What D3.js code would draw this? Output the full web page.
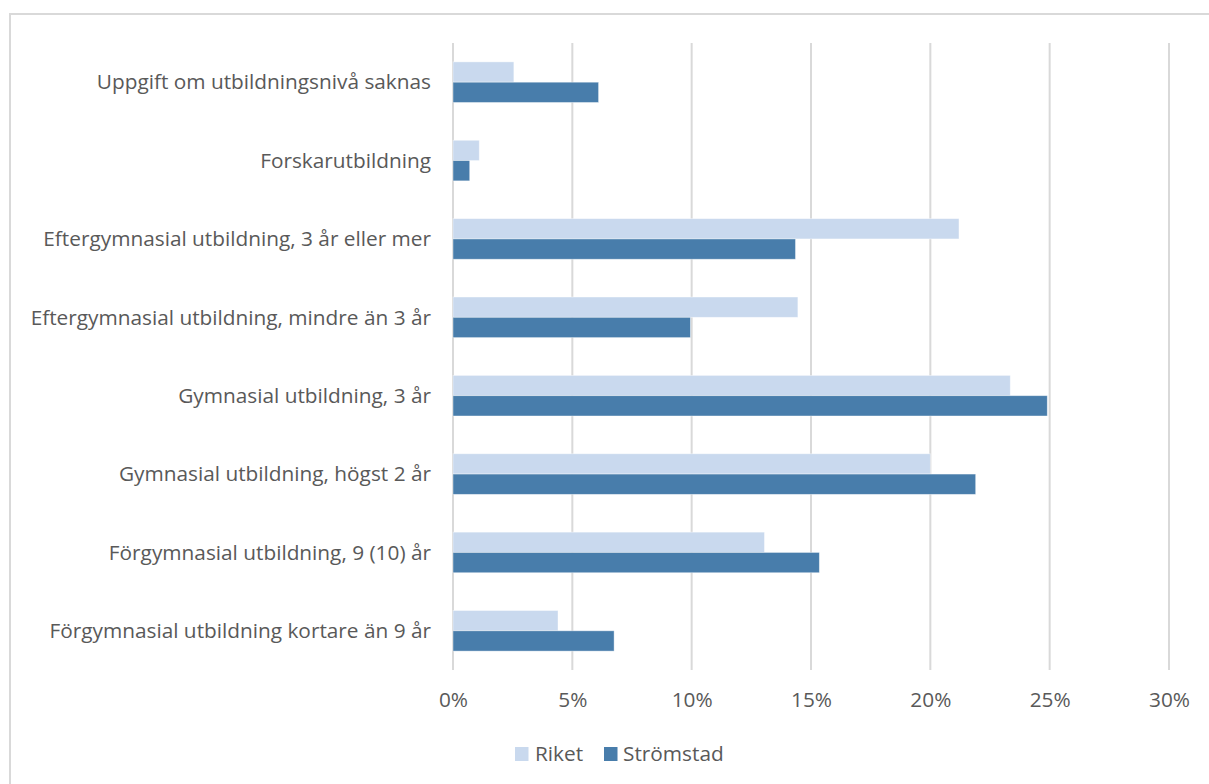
<!DOCTYPE html>
<html>
<head>
<meta charset="utf-8">
<script src="https://cdn.jsdelivr.net/npm/d3@7"></script>
<style>
  html, body { margin: 0; padding: 0; background: #fff; }
  svg { display: block; }
  text { font-family: "Open Sans", "Noto Sans", sans-serif; fill: #595959; }
</style>
</head>
<body>
<svg id="chart" width="1209" height="784"></svg>
<script>
// Utbildningsnivå, andel av befolkningen
const categories = [
  "Uppgift om utbildningsnivå saknas",
  "Forskarutbildning",
  "Eftergymnasial utbildning, 3 år eller mer",
  "Eftergymnasial utbildning, mindre än 3 år",
  "Gymnasial utbildning, 3 år",
  "Gymnasial utbildning, högst 2 år",
  "Förgymnasial utbildning, 9 (10) år",
  "Förgymnasial utbildning kortare än 9 år"
];
const seriesNames = ["Riket", "Strömstad"];
const riket     = [2.55, 1.1, 21.2, 14.45, 23.35, 20.0, 13.05, 4.4];
const stromstad = [6.1, 0.7, 14.35, 9.95, 24.9, 21.9, 15.35, 6.75];
const tickValues = [0, 5, 10, 15, 20, 25, 30];
const colors = ["#c9d9ee", "#487dab"];
const fontSize = 20.8;

const svg = d3.select("#chart");

// outer chart frame
svg.append("rect")
  .attr("x", 10).attr("y", 14)
  .attr("width", 1300).attr("height", 900)
  .attr("fill", "none")
  .attr("stroke", "#d9d9d9").attr("stroke-width", 2);

const x = d3.scaleLinear().domain([0, 30]).range([453, 1169]);
const y = d3.scaleBand().domain(categories).range([43, 670]).paddingInner(0).paddingOuter(0);
const barH = 20.3;

// gridlines
svg.append("g")
  .selectAll("line")
  .data(tickValues)
  .join("line")
  .attr("x1", d => x(d)).attr("x2", d => x(d))
  .attr("y1", 43).attr("y2", 670)
  .attr("stroke", "#d9d9d9").attr("stroke-width", 2);

// bars
const rows = categories.map((c, i) => ({ c, vals: [riket[i], stromstad[i]] }));
const groups = svg.append("g").selectAll("g")
  .data(rows)
  .join("g")
  .attr("transform", d => `translate(0,${y(d.c) + y.bandwidth() / 2 - barH})`);

groups.selectAll("rect")
  .data(d => d.vals.map((v, k) => ({ v, k })))
  .join("rect")
  .attr("x", x(0))
  .attr("y", d => d.k * barH)
  .attr("width", d => x(d.v) - x(0))
  .attr("height", barH)
  .attr("fill", d => colors[d.k])
  .attr("stroke", "#ffffff").attr("stroke-opacity", 0.5).attr("stroke-width", 0.8);

// category labels
svg.append("g")
  .selectAll("text")
  .data(categories)
  .join("text")
  .attr("x", 431)
  .attr("y", d => y(d) + y.bandwidth() / 2)
  .attr("dy", "0.35em")
  .attr("text-anchor", "end")
  .attr("font-size", fontSize)
  .text(d => d);

// x axis labels
const xAxis = d3.axisBottom(x)
  .tickValues(tickValues)
  .tickFormat(d => d + "%")
  .tickSize(0)
  .tickPadding(0);
const ax = svg.append("g").attr("transform", "translate(0,700)").call(xAxis);
ax.select(".domain").remove();
ax.selectAll("text")
  .attr("font-size", fontSize)
  .attr("font-family", "'Open Sans', 'Noto Sans', sans-serif")
  .attr("fill", "#595959")
  .attr("dy", "0.35em")
  .attr("y", 0);

// legend
const legendItems = [
  { name: seriesNames[0], color: colors[0], sx: 515, tx: 535 },
  { name: seriesNames[1], color: colors[1], sx: 604, tx: 623 }
];
const lg = svg.append("g");
lg.selectAll("rect")
  .data(legendItems)
  .join("rect")
  .attr("x", d => d.sx).attr("y", 747)
  .attr("width", 13.5).attr("height", 14)
  .attr("fill", d => d.color);
lg.selectAll("text")
  .data(legendItems)
  .join("text")
  .attr("x", d => d.tx).attr("y", 754)
  .attr("dy", "0.35em")
  .attr("font-size", fontSize)
  .text(d => d.name);
</script>
</body>
</html>
